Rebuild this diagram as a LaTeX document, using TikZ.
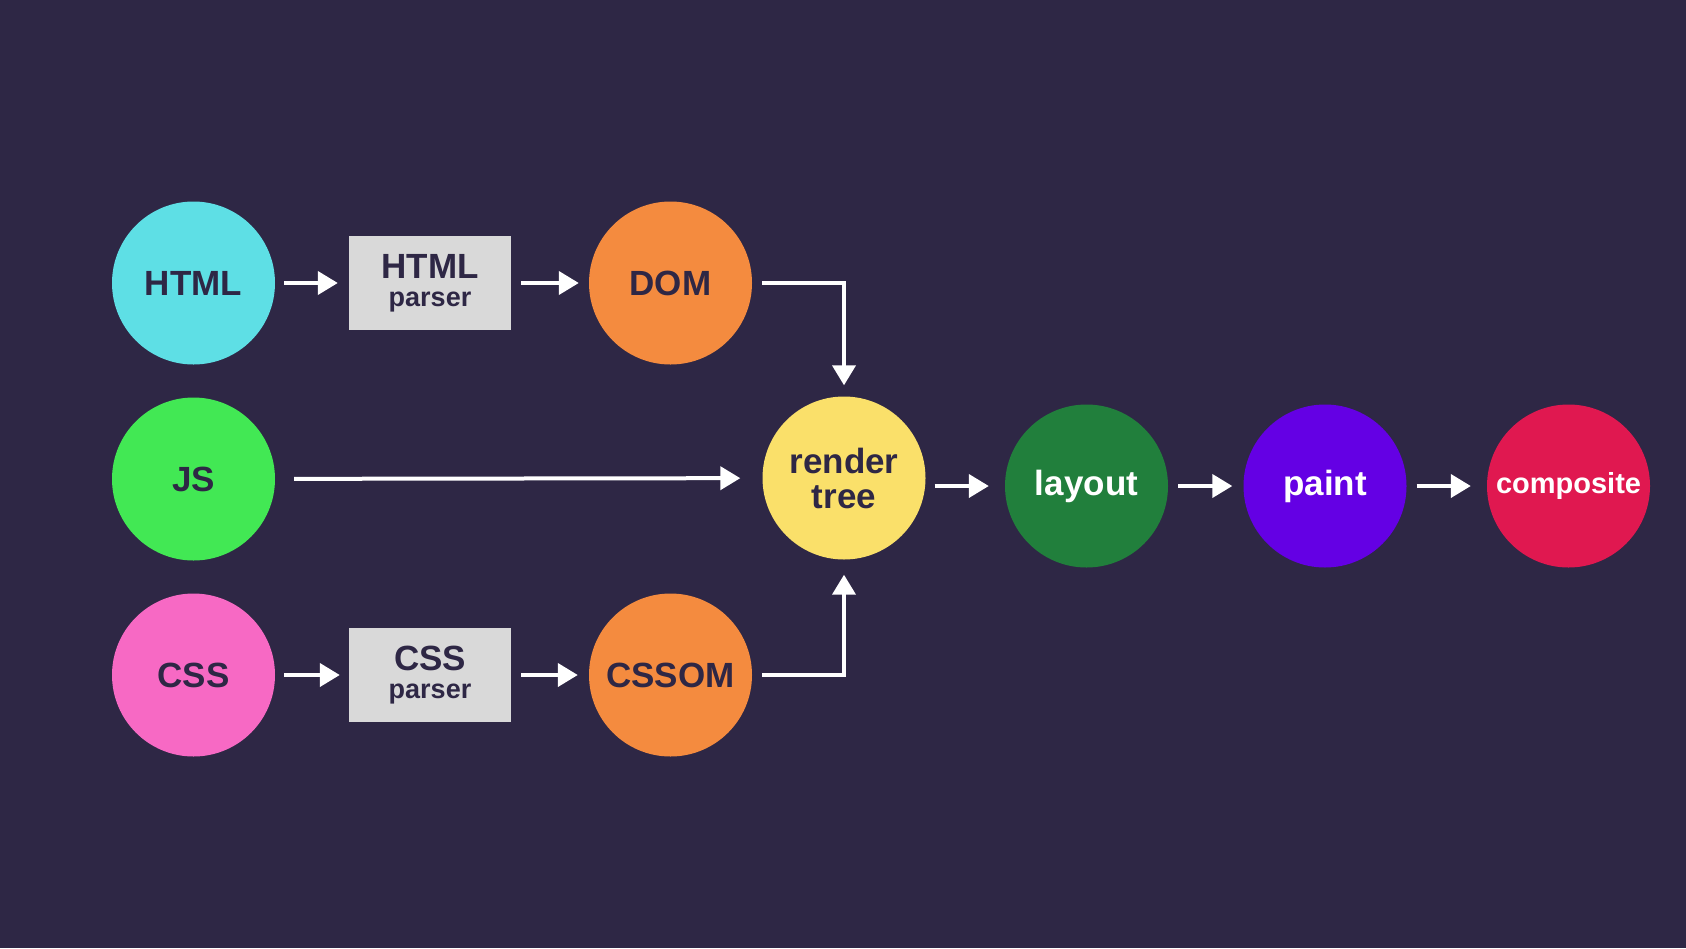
\documentclass[tikz,border=0pt]{standalone}
\usepackage{fontspec}
\setmainfont{Liberation Sans}
\usetikzlibrary{arrows.meta}
\definecolor{bg}{HTML}{2E2745}
\definecolor{htmlcyan}{HTML}{5EDFE5}
\definecolor{jsgreen}{HTML}{42E854}
\definecolor{csspink}{HTML}{F769C4}
\definecolor{boxgray}{HTML}{D9D9D9}
\definecolor{domorange}{HTML}{F48B3F}
\definecolor{treeyellow}{HTML}{FAE06A}
\definecolor{layoutgreen}{HTML}{217F3C}
\definecolor{paintpurple}{HTML}{6400E4}
\definecolor{compred}{HTML}{E01850}
\begin{document}
\begin{tikzpicture}[x=1pt,y=-1pt,
    every node/.style={font=\bfseries\fontsize{35}{28}\selectfont,text=bg},
    stage/.style={circle,minimum size=163pt,inner sep=0pt,align=center},
    parserbox/.style={fill=boxgray,minimum width=162pt,minimum height=94pt,inner sep=0pt,align=center},
    flow/.style={draw=white,line width=4pt,-{Triangle[length=20pt,width=23pt]},shorten <=10pt,shorten >=11pt}]
    	\fill[bg] (0,0) rectangle (1686,948);
    	\useasboundingbox (0,0) rectangle (1686,948);

    	% sources
    	\node[stage,fill=htmlcyan] (html) at (193.5,283) {HTML};
    	\node[stage,fill=jsgreen] (js) at (193.5,479) {JS};
    	\node[stage,fill=csspink] (css) at (193.5,675) {CSS};

    	% parsers and object models
    	\node[parserbox] (hparser) at (430,283) {HTML\\{\fontsize{27}{27}\selectfont parser}};
    	\node[parserbox] (cparser) at (430,675) {CSS\\{\fontsize{27}{27}\selectfont parser}};
    	\node[stage,fill=domorange] (dom) at (670.5,283) {DOM};
    	\node[stage,fill=domorange] (cssom) at (670.5,675) {CSSOM};

    	% pipeline
    	\node[stage,fill=treeyellow,font=\bfseries\fontsize{35}{35}\selectfont] (rtree) at (844,478) {render\\tree};
    	\node[stage,fill=layoutgreen,text=white] (layout) at (1086.5,486) {layout};
    	\node[stage,fill=paintpurple,text=white] (paint) at (1325,486) {paint};
    	\node[stage,fill=compred,text=white,font=\bfseries\fontsize{29}{29}\selectfont] (comp) at (1568.5,486) {composite};

    	\draw[flow,shorten <=9pt] (html) -- (hparser);
    	\draw[flow,shorten >=10pt] (hparser) -- (dom);
    	\draw[flow] (dom.east) -| (rtree.north);
    	\draw[flow,shorten <=19pt,shorten >=22pt] (js) -- (rtree);
    	\draw[flow,shorten <=9pt,shorten >=9pt] (css) -- (cparser);
    	\draw[flow] (cparser) -- (cssom);
    	\draw[flow,shorten >=15pt] (cssom.east) -| (rtree.south);
    	\draw[flow,shorten <=9pt,shorten >=16pt] (rtree.east |- layout.west) -- (layout.west);
    	\draw[flow] (layout) -- (paint);
    	\draw[flow,shorten >=16pt] (paint) -- (comp);
\end{tikzpicture}
\end{document}
